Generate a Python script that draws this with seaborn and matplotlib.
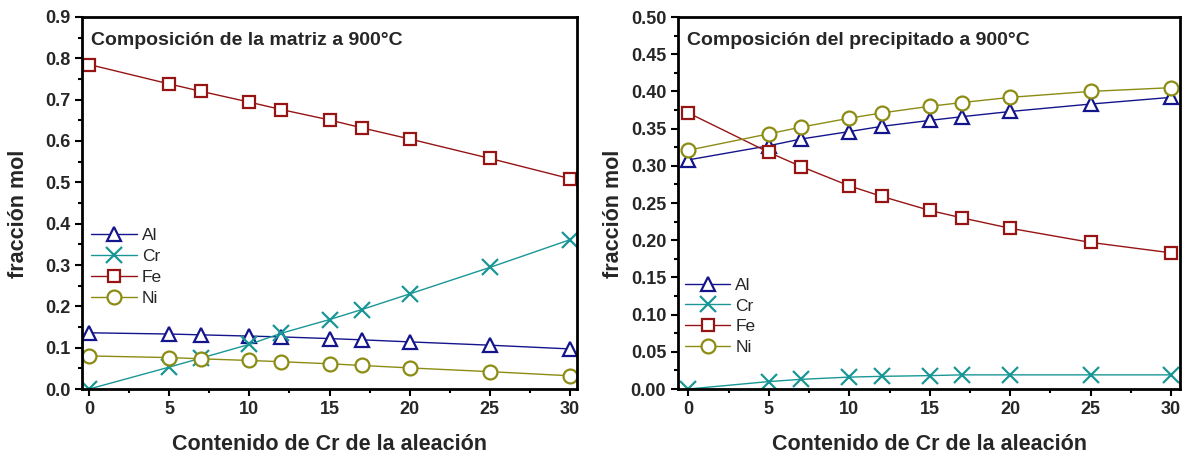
import matplotlib
matplotlib.use("Agg")
import matplotlib.pyplot as plt
import seaborn as sns
import numpy as np
from matplotlib.ticker import MultipleLocator, FormatStrFormatter

sns.set_theme(style="white")
plt.rcParams['font.family'] = ['Liberation Sans', 'DejaVu Sans']

cr_content = [0, 5, 7, 10, 12, 15, 17, 20, 25, 30]
elements = ["Al", "Cr", "Fe", "Ni"]

# Matrix composition at 900 C
matrix_al = [0.136, 0.133, 0.131, 0.128, 0.126, 0.122, 0.119, 0.114, 0.106, 0.097]
matrix_cr = [0.0, 0.053, 0.075, 0.108, 0.135, 0.168, 0.192, 0.230, 0.294, 0.361]
matrix_fe = [0.785, 0.738, 0.720, 0.694, 0.676, 0.651, 0.632, 0.605, 0.558, 0.509]
matrix_ni = [0.080, 0.076, 0.073, 0.069, 0.066, 0.061, 0.057, 0.051, 0.042, 0.032]

# Precipitate composition at 900 C
prec_al = [0.308, 0.327, 0.336, 0.346, 0.353, 0.361, 0.366, 0.373, 0.383, 0.392]
prec_cr = [0.0, 0.010, 0.013, 0.016, 0.017, 0.018, 0.019, 0.019, 0.019, 0.019]
prec_fe = [0.371, 0.318, 0.299, 0.273, 0.259, 0.240, 0.230, 0.216, 0.197, 0.183]
prec_ni = [0.321, 0.343, 0.352, 0.364, 0.371, 0.380, 0.385, 0.392, 0.400, 0.405]

colors = {"Al": "#14148c", "Cr": "#1a9696", "Fe": "#961414", "Ni": "#8c8c14"}
markers = {"Al": "^", "Cr": "x", "Fe": "s", "Ni": "o"}
msizes = {"Al": 10, "Cr": 11, "Fe": 9, "Ni": 10}

fig = plt.figure(figsize=(11.86, 4.61), dpi=100)
ax1 = fig.add_axes([82/1186, 1-389/461, 495/1186, 372/461])
ax2 = fig.add_axes([678/1186, 1-389/461, 502/1186, 372/461])

panels = [
    (ax1, [matrix_al, matrix_cr, matrix_fe, matrix_ni], "Composición de la matriz a 900°C",
     (0, 0.9), 0.1, 0.05, "%.1f", (-0.45, 30.45), (0.005, 0.205)),
    (ax2, [prec_al, prec_cr, prec_fe, prec_ni], "Composición del precipitado a 900°C",
     (0, 0.5), 0.05, 0.025, "%.2f", (-0.65, 30.55), (0.0, 0.072)),
]

for ax, series, title, ylim, major, minor, fmt, xlim, leg_anchor in panels:
    for el, vals in zip(elements, series):
        sns.lineplot(x=cr_content, y=vals, ax=ax, color=colors[el], marker=markers[el],
                     markersize=msizes[el], mfc="white", mec=colors[el], mew=1.6,
                     linewidth=1.0, label=el)
    ax.set_xlim(*xlim)
    ax.set_ylim(*ylim)
    ax.xaxis.set_major_locator(MultipleLocator(5))
    ax.xaxis.set_minor_locator(MultipleLocator(2.5))
    ax.yaxis.set_major_locator(MultipleLocator(major))
    ax.yaxis.set_minor_locator(MultipleLocator(minor))
    ax.yaxis.set_major_formatter(FormatStrFormatter(fmt))
    ax.tick_params(axis="both", which="major", direction="out", length=5, width=1.5,
                   labelsize=13, bottom=True, left=True, top=False, right=False, color="black")
    ax.tick_params(axis="both", which="minor", direction="out", length=3, width=1.5,
                   bottom=True, left=True, top=False, right=False, color="black")
    for lbl in ax.get_xticklabels() + ax.get_yticklabels():
        lbl.set_fontweight("bold")
    for sp in ax.spines.values():
        sp.set_color("black")
        sp.set_linewidth(2.0)
        sp.set_visible(True)
    ax.set_xlabel("Contenido de Cr de la aleación", fontsize=15.5, fontweight="bold", labelpad=12)
    ax.set_ylabel("fracción mol", fontsize=15.5, fontweight="bold", labelpad=8)
    ax.yaxis.set_label_coords(-0.108, 0.47)
    ax.text(0.018, 0.938, title, transform=ax.transAxes, fontsize=14, fontweight="bold",
            ha="left", va="center")
    leg = ax.legend(loc="lower left", bbox_to_anchor=leg_anchor, frameon=False,
                    fontsize=12.5, handlelength=2.6, handletextpad=0.3, labelspacing=0.33,
                    borderaxespad=0)

fig.savefig("out.png", dpi=100)
